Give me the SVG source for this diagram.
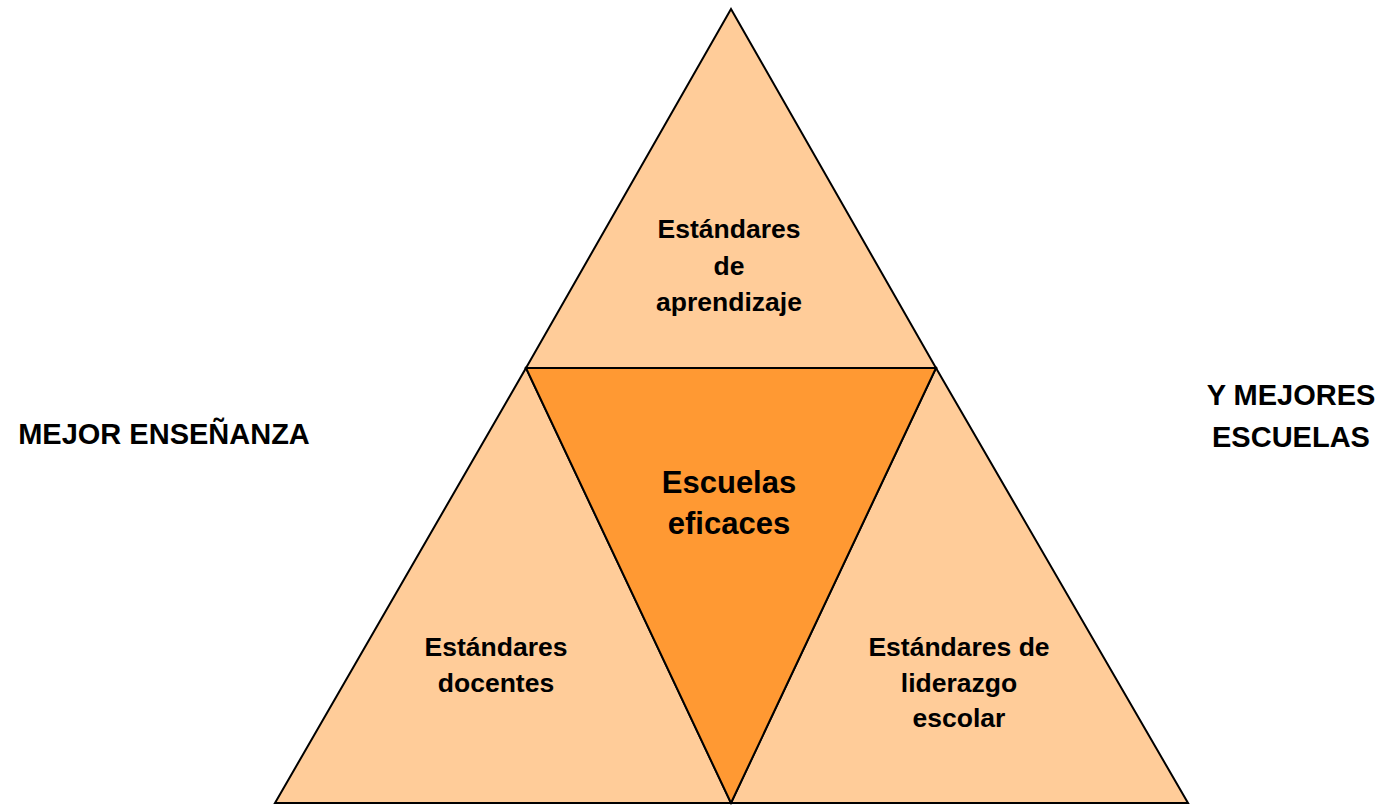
<svg xmlns="http://www.w3.org/2000/svg" width="1385" height="806" viewBox="0 0 1385 806">
<style>
.tri{stroke:#000;stroke-width:2;stroke-linejoin:miter}
.light{fill:#FFCC99}
.dark{fill:#FF9933}
text{font-family:"Liberation Sans",Arial,sans-serif;font-weight:bold;fill:#000;text-anchor:middle}
.lbl{font-size:26.5px}
.big{font-size:31px}
.side{font-size:29px}
</style>
<rect width="1385" height="806" fill="#fff"/>
<g id="top">
<polygon class="tri light" points="731,9 936,368 526,368"/>
<text class="lbl"><tspan x="729" y="238">Estándares</tspan><tspan x="729" y="275">de</tspan><tspan x="729" y="311">aprendizaje</tspan></text>
</g>
<g id="left">
<polygon class="tri light" points="526,368 731,803 275,803"/>
<text class="lbl"><tspan x="496" y="656">Estándares</tspan><tspan x="496" y="692">docentes</tspan></text>
</g>
<g id="right">
<polygon class="tri light" points="936,368 1188,803 731,803"/>
<text class="lbl"><tspan x="959" y="656">Estándares de</tspan><tspan x="959" y="692">liderazgo</tspan><tspan x="959" y="727">escolar</tspan></text>
</g>
<g id="center">
<polygon class="tri dark" points="526,368 936,368 731,803"/>
<text class="big"><tspan x="729" y="493">Escuelas</tspan><tspan x="729" y="534">eficaces</tspan></text>
</g>
<g id="label-left">
<text class="side" x="164" y="444">MEJOR ENSEÑANZA</text>
</g>
<g id="label-right">
<text class="side"><tspan x="1291" y="405">Y MEJORES</tspan><tspan x="1291" y="447">ESCUELAS</tspan></text>
</g>
<g id="connectors"/>
</svg>
